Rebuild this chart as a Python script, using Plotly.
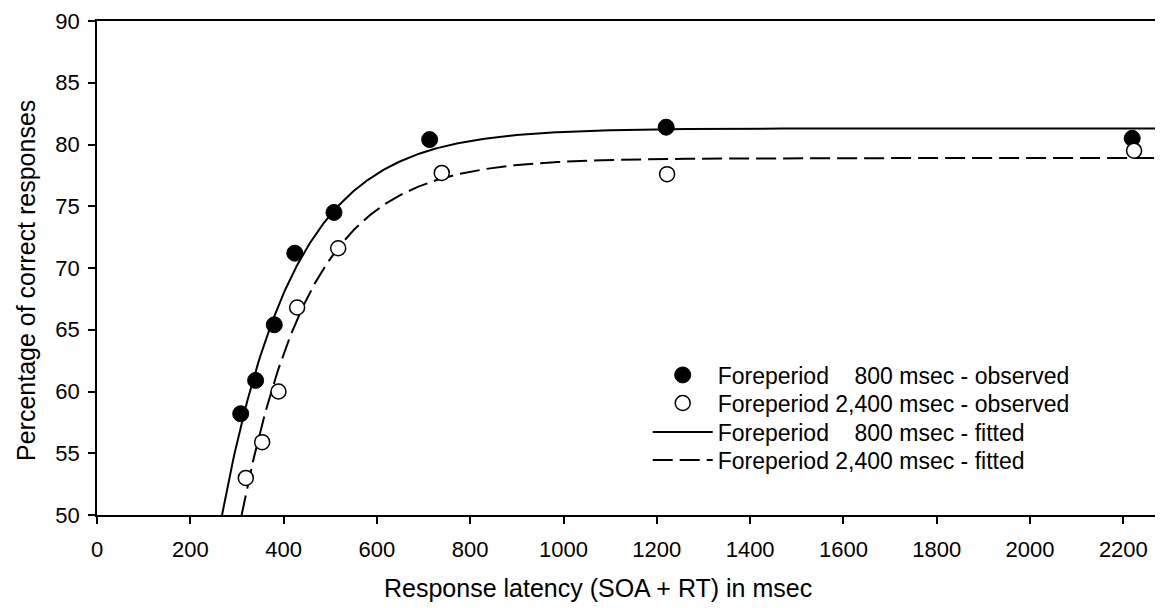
import numpy as np
import plotly.graph_objects as go

# Observed data (response latency in msec, percentage correct)
fp800_latency = [308, 340, 380, 424, 508, 713, 1220, 2219]
fp800_correct = [58.2, 60.9, 65.4, 71.2, 74.5, 80.4, 81.4, 80.5]

fp2400_latency = [319, 354, 389, 429, 517, 739, 1222, 2223]
fp2400_correct = [53.0, 55.9, 60.0, 66.8, 71.6, 77.7, 77.6, 79.5]

# Fitted exponential approach-to-limit parameters: asymptote, intercept (msec where curve = 50), time constant (msec)
fit800_asymptote, fit800_intercept, fit800_tau = 81.3, 268.0, 155.0
fit2400_asymptote, fit2400_intercept, fit2400_tau = 78.9, 310.0, 150.0
fit_floor = 50.0

x_ticks = [0, 200, 400, 600, 800, 1000, 1200, 1400, 1600, 1800, 2000, 2200]
y_ticks = [50, 55, 60, 65, 70, 75, 80, 85, 90]

legend_labels = [
    "Foreperiod\u00a0\u00a0\u00a0\u00a0800 msec - observed",
    "Foreperiod 2,400 msec - observed",
    "Foreperiod\u00a0\u00a0\u00a0\u00a0800 msec - fitted",
    "Foreperiod 2,400 msec - fitted",
]

FONT = "Arial, 'Liberation Sans', sans-serif"


def fitted(asym, intercept, tau, t):
    t = np.asarray(t, dtype=float)
    return asym - (asym - fit_floor) * np.exp(-(t - intercept) / tau)


t800 = np.linspace(fit800_intercept, 2300, 600)
t2400 = np.linspace(fit2400_intercept, 2300, 600)

fig = go.Figure()

fig.add_trace(go.Scatter(
    x=t800, y=fitted(fit800_asymptote, fit800_intercept, fit800_tau, t800),
    mode="lines", line=dict(color="black", width=2),
    name=legend_labels[2], legend="legend3", hoverinfo="skip"))
fig.add_trace(go.Scatter(
    x=t2400, y=fitted(fit2400_asymptote, fit2400_intercept, fit2400_tau, t2400),
    mode="lines", line=dict(color="black", width=2, dash="20px,7px"),
    name=legend_labels[3], legend="legend4", hoverinfo="skip"))
fig.add_trace(go.Scatter(
    x=fp800_latency, y=fp800_correct, mode="markers",
    marker=dict(symbol="circle", size=16, color="black", line=dict(color="black", width=1)),
    name=legend_labels[0], legend="legend"))
fig.add_trace(go.Scatter(
    x=fp2400_latency, y=fp2400_correct, mode="markers",
    marker=dict(symbol="circle", size=15, color="white", line=dict(color="black", width=1.5)),
    name=legend_labels[1], legend="legend2"))

# Page body has an 8px margin: figure is sized/offset so the plot lands where the reference has it
legend_common = dict(
    x=0.5166, xanchor="left", yanchor="middle",
    bgcolor="rgba(0,0,0,0)", borderwidth=0,
    font=dict(family=FONT, size=23, color="black"),
    itemwidth=60, tracegroupgap=0,
)

fig.update_layout(
    width=1155, height=600,
    margin=dict(l=89, r=0, t=13, b=93),
    paper_bgcolor="white", plot_bgcolor="white",
    font=dict(family=FONT, size=22, color="black"),
    showlegend=True,
    legend=dict(y=0.2834, **legend_common),
    legend2=dict(y=0.2267, **legend_common),
    legend3=dict(y=0.1680, **legend_common),
    legend4=dict(y=0.1113, **legend_common),
    xaxis=dict(
        range=[0, 2285], tickvals=x_ticks, ticktext=[str(v) for v in x_ticks],
        showline=True, linecolor="black", linewidth=1.5, mirror=True,
        ticks="outside", ticklen=7, tickwidth=1.5, tickcolor="black",
        showgrid=False, zeroline=False, ticklabelstandoff=7,
        tickfont=dict(family=FONT, size=22, color="black"),
    ),
    yaxis=dict(
        range=[50, 90], tickvals=y_ticks, ticktext=[str(v) for v in y_ticks],
        showline=True, linecolor="black", linewidth=1.5,
        ticks="outside", ticklen=7, tickwidth=1.5, tickcolor="black",
        showgrid=False, zeroline=False, ticklabelstandoff=4,
        tickfont=dict(family=FONT, size=22, color="black"),
    ),
    annotations=[
        dict(text="Response latency (SOA + RT) in msec", xref="paper", yref="paper",
             x=0.47, y=-0.1478, xanchor="center", yanchor="middle", showarrow=False,
             font=dict(family=FONT, size=25, color="black")),
        dict(text="Percentage of correct responses", xref="paper", yref="paper",
             x=-0.0666, y=0.4737, xanchor="center", yanchor="middle", textangle=-90,
             showarrow=False, font=dict(family=FONT, size=25, color="black")),
    ],
)

fig.write_html("out.html")
